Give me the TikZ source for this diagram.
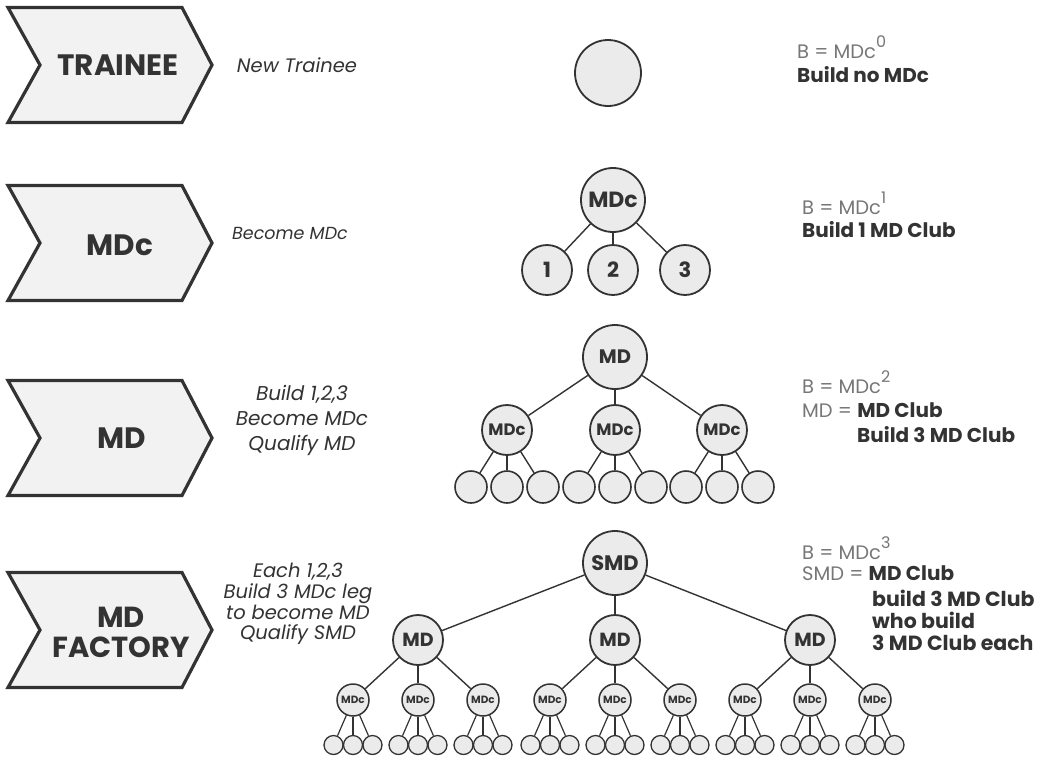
\documentclass[tikz,border=0pt]{standalone}
\usepackage{fontspec}
\setmainfont{Poppins}

\definecolor{ink}{HTML}{333333}
\definecolor{soft}{HTML}{777777}
\definecolor{paper}{HTML}{F2F2F2}
\definecolor{bubble}{HTML}{EBEBEB}

\tikzset{
  chevronbox/.style={draw=ink, line width=3.2pt, fill=paper, line join=miter},
  stage/.style={font=\bfseries\fontsize{29.5}{31}\selectfont, text=ink, align=center, inner sep=0},
  note/.style={font=\itshape\fontsize{19.5}{21}\selectfont, text=ink, align=center, inner sep=0},
  formula/.style={font=\fontsize{19.5}{20}\selectfont, text=soft, anchor=west, inner sep=0},
  claim/.style={font=\bfseries\fontsize{20}{20}\selectfont, text=ink, anchor=west, inner sep=0},
  bub/.style={circle, draw=ink, line width=1.8pt, fill=bubble, inner sep=0, text=ink},
  bigbub/.style={bub, minimum size=64pt, font=\bfseries\fontsize{20}{20}\selectfont},
  midbub/.style={bub, minimum size=50pt, font=\bfseries\fontsize{18}{18}\selectfont},
  smallbub/.style={bub, minimum size=32pt, line width=1.5pt, font=\bfseries\fontsize{10.5}{10}\selectfont},
  leafbub/.style={bub, minimum size=32pt, line width=1.6pt},
  tinyleaf/.style={bub, minimum size=19pt, line width=1.3pt},
  link/.style={draw=ink, line width=1.4pt},
}

% a chevron centred vertically on #1
\newcommand\stagechevron[1]{%
  \draw[chevronbox] (8,#1-57.5) -- (182,#1-57.5) -- (212,#1) -- (182,#1+57.5)
    -- (8,#1+57.5) -- (40,#1) -- cycle;}
\newcommand\supnum[1]{\raisebox{0.55em}{\fontsize{16}{16}\selectfont #1}}

\begin{document}
\begin{tikzpicture}[x=1pt,y=-1pt]
\useasboundingbox[fill=white] (0,0) rectangle (1039,758);

% stage chevrons
\stagechevron{65}
\stagechevron{243}
\stagechevron{438}
\stagechevron{630}
\node[stage] (s1) at (118,65) {TRAINEE};
\node[stage] (s2) at (120,245) {MDc};
\node[stage] (s3) at (122,438) {MD};
\node[stage, font=\bfseries\fontsize{29}{30}\selectfont] (s4) at (121,632) {MD\\FACTORY};

% stage descriptions
\node[note] (n1) at (297,65) {New Trainee};
\node[note, font=\itshape\fontsize{17.5}{21}\selectfont] (n2) at (290,233) {Become MDc};
\node[note, font=\itshape\fontsize{20}{25}\selectfont] (n3) at (302,420) {Build 1,2,3\\Become MDc\\Qualify MD};
\node[note, font=\itshape\fontsize{19.5}{20.7}\selectfont] (n4) at (298,604) {Each 1,2,3\\Build 3 MDc leg\\to become MD\\Qualify SMD};

% formulas
\node[formula] (f1) at (797,47) {B = MDc\supnum{0}};
\node[claim] (c1) at (797,75) {Build no MDc};
\node[formula] (f2) at (802,203) {B = MDc\supnum{1}};
\node[claim] (c2) at (802,230) {Build 1 MD Club};
\node[formula] (f3) at (802,382) {B = MDc\supnum{2}};
\node[formula] (g3) at (802,410) {MD = \textcolor{ink}{\bfseries\fontsize{20}{20}\selectfont MD Club}};
\node[claim] (c3) at (857,435) {Build 3 MD Club};
\node[formula] (f4) at (802,548) {B = MDc\supnum{3}};
\node[formula] (g4) at (802,573) {SMD = \textcolor{ink}{\bfseries\fontsize{20}{20}\selectfont MD Club}};
\node[claim, font=\bfseries\fontsize{20.5}{20}\selectfont] (c4a) at (872,598) {build 3 MD Club};
\node[claim, font=\bfseries\fontsize{20.5}{20}\selectfont] (c4b) at (872,620) {who build};
\node[claim, font=\bfseries\fontsize{20.5}{20}\selectfont] (c4c) at (872,643) {3 MD Club each};

% level 0
\node[bub, minimum size=66pt] (t0) at (608,73) {};

% level 1
\node[bigbub, font=\bfseries\fontsize{22}{22}\selectfont] (m) at (613,200) {MDc};
\foreach \i/\x in {1/547,2/613,3/685}{
  \node[midbub, font=\bfseries\fontsize{21}{21}\selectfont] (m\i) at (\x,270) {\i};
  \draw[link] (m) -- (m\i);
}

% level 2
\node[bigbub, font=\bfseries\fontsize{19.5}{20}\selectfont] (d) at (615,357) {MD};
\foreach \i/\x in {1/507,2/615,3/722}{
  \node[midbub, font=\bfseries\fontsize{16.5}{17}\selectfont] (d\i) at (\x,430) {MDc};
  \draw[link] (d) -- (d\i);
  \foreach \j in {1,2,3}{
    \node[leafbub] (d\i l\j) at ({\x+(\j-2)*36},487) {};
    \draw[link] (d\i) -- (d\i l\j);
  }
}

% level 3
\node[bigbub, font=\bfseries\fontsize{21}{21}\selectfont] (s) at (615,563) {SMD};
\foreach \i/\x in {1/418,2/615,3/810}{
  \node[midbub, font=\bfseries\fontsize{19}{19}\selectfont] (s\i) at (\x,640) {MD};
  \draw[link] (s) -- (s\i);
  \foreach \j in {1,2,3}{
    \node[smallbub] (s\i c\j) at ({\x+(\j-2)*65},700) {MDc};
    \draw[link] (s\i) -- (s\i c\j);
    \foreach \k in {1,2,3}{
      \node[tinyleaf] (s\i c\j l\k) at ({\x+(\j-2)*65+(\k-2)*19.5},745) {};
      \draw[link, line width=1.2pt] (s\i c\j) -- (s\i c\j l\k);
    }
  }
}
\end{tikzpicture}
\end{document}
